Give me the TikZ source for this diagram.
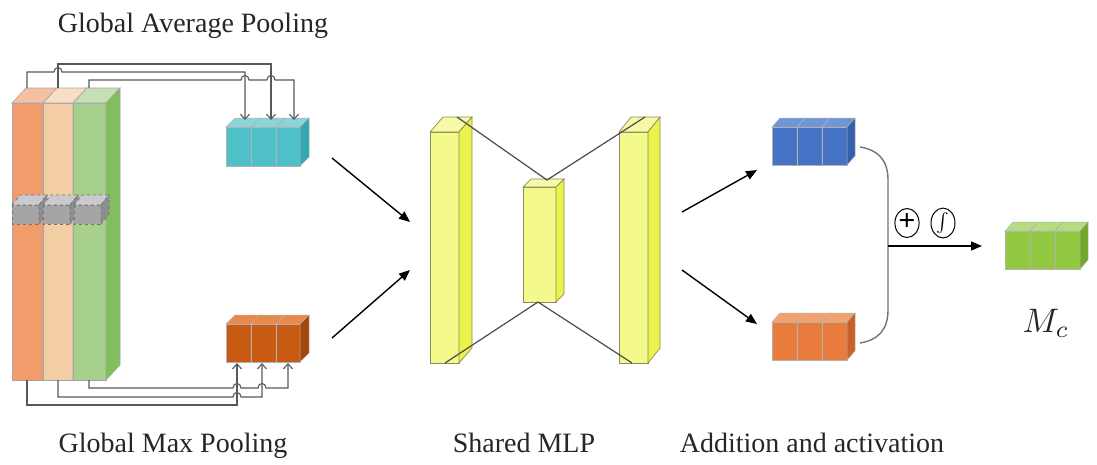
\documentclass[tikz,border=0pt]{standalone}
\usepackage{fontspec}
\setmainfont{Liberation Serif}
\usetikzlibrary{arrows.meta,shapes.geometric}
\definecolor{txt}{HTML}{262626}
\definecolor{cOrF}{HTML}{F29C6C}\definecolor{cOrT}{HTML}{F6C1A2}
\definecolor{cBeF}{HTML}{F3CDA3}\definecolor{cBeT}{HTML}{F8DEC4}
\definecolor{cGrF}{HTML}{A8D08D}\definecolor{cGrT}{HTML}{C6E0B5}\definecolor{cGrS}{HTML}{80BF5C}
\definecolor{cGyF}{HTML}{A5A5A8}\definecolor{cGyT}{HTML}{CACACE}\definecolor{cGyS}{HTML}{8E8E92}
\definecolor{cCyF}{HTML}{4FC0C8}\definecolor{cCyT}{HTML}{8AD5DA}\definecolor{cCyS}{HTML}{34A8B0}
\definecolor{cDoF}{HTML}{C95A12}\definecolor{cDoT}{HTML}{E8884A}\definecolor{cDoS}{HTML}{A3470C}
\definecolor{cBlF}{HTML}{4472C4}\definecolor{cBlT}{HTML}{7096D8}\definecolor{cBlS}{HTML}{3560AA}
\definecolor{cLoF}{HTML}{E97B3C}\definecolor{cLoT}{HTML}{F2A270}\definecolor{cLoS}{HTML}{C8612A}
\definecolor{cLgF}{HTML}{92C940}\definecolor{cLgT}{HTML}{B5DC7E}\definecolor{cLgS}{HTML}{71A82A}
\definecolor{cYeF}{HTML}{F4F98C}\definecolor{cYeT}{HTML}{F6FAA6}\definecolor{cYeS}{HTML}{EAF24C}
\definecolor{cYeL}{HTML}{8A8A5A}
\newcommand\cuboid[9]{%
  \filldraw[fill=#7] (#1,#2) rectangle ++(#3,#4);
  \filldraw[fill=#8] (#1,#2) -- ++(#5,-#6) -- ++(#3,0) -- ++(-#5,#6) -- cycle;
  \filldraw[fill=#9] (#1+#3,#2) -- ++(#5,-#6) -- ++(0,#4) -- ++(-#5,#6) -- cycle;
}
\tikzset{
  lbl/.style={text=txt,anchor=base,font=\fontsize{28}{30}\selectfont},
  feed/.style={draw=black!65,line width=1.1pt,-{Straight Barb[length=5pt,width=9pt]}},
  flow/.style={draw=black,line width=1.4pt,-{Triangle[length=11pt,width=9pt]}},
  mlpline/.style={draw=black!70,line width=1.2pt},
  symb/.style={ellipse,draw=black,line width=1pt,minimum width=24pt,minimum height=29pt,inner sep=0pt}
}
\begin{document}
\begin{tikzpicture}[x=1pt,y=-1pt]
\useasboundingbox (0,0) rectangle (1097,464);
% big feature block
\begin{scope}[draw=black!35,line width=0.6pt]
\cuboid{12}{103}{31}{277}{14}{15}{cOrF}{cOrT}{cOrF}
\cuboid{43}{103}{30}{277}{14}{15}{cBeF}{cBeT}{cBeF}
\cuboid{73}{103}{33}{277}{14}{15}{cGrF}{cGrT}{cGrS}
\end{scope}
\begin{scope}[draw=black!55,line width=0.8pt,dashed]
\cuboid{12}{205}{27}{19}{8}{10}{cGyF}{cGyT}{cGyS}
\cuboid{43}{205}{27}{19}{8}{10}{cGyF}{cGyT}{cGyS}
\cuboid{74}{205}{27}{19}{8}{10}{cGyF}{cGyT}{cGyS}
\end{scope}
% pooled vectors
\begin{scope}[draw=black!30,line width=0.5pt]
\cuboid{226}{127}{25}{39}{9}{9}{cCyF}{cCyT}{cCyS}
\cuboid{251}{127}{25}{39}{9}{9}{cCyF}{cCyT}{cCyS}
\cuboid{276}{127}{24}{39}{9}{9}{cCyF}{cCyT}{cCyS}
\cuboid{226}{324}{25}{38}{9}{9}{cDoF}{cDoT}{cDoS}
\cuboid{251}{324}{25}{38}{9}{9}{cDoF}{cDoT}{cDoS}
\cuboid{276}{324}{24}{38}{9}{9}{cDoF}{cDoT}{cDoS}
\cuboid{772}{127}{25}{38}{8}{9}{cBlF}{cBlT}{cBlS}
\cuboid{797}{127}{25}{38}{8}{9}{cBlF}{cBlT}{cBlS}
\cuboid{822}{127}{25}{38}{8}{9}{cBlF}{cBlT}{cBlS}
\cuboid{772}{322}{25}{38}{8}{9}{cLoF}{cLoT}{cLoS}
\cuboid{797}{322}{25}{38}{8}{9}{cLoF}{cLoT}{cLoS}
\cuboid{822}{322}{25}{38}{8}{9}{cLoF}{cLoT}{cLoS}
\cuboid{1005}{231}{25}{38}{8}{9}{cLgF}{cLgT}{cLgS}
\cuboid{1030}{231}{25}{38}{8}{9}{cLgF}{cLgT}{cLgS}
\cuboid{1055}{231}{25}{38}{8}{9}{cLgF}{cLgT}{cLgS}
\end{scope}
% MLP bars
\begin{scope}[draw=cYeL,line width=0.7pt]
\cuboid{430}{132}{29}{231}{13}{15}{cYeF}{cYeT}{cYeS}
\cuboid{523}{187}{33}{115}{8}{8}{cYeF}{cYeT}{cYeS}
\cuboid{619}{132}{29}{231}{12}{15}{cYeF}{cYeT}{cYeS}
\end{scope}
% coordinates
\coordinate (oT) at (27,88);  \coordinate (bT) at (58,88);  \coordinate (gT) at (89,88);
\coordinate (oB) at (27,380); \coordinate (bB) at (58,380); \coordinate (gB) at (89,380);
\coordinate (c1) at (245,120); \coordinate (c2) at (271,120); \coordinate (c3) at (294,120);
\coordinate (d1) at (237,363); \coordinate (d2) at (262,363); \coordinate (d3) at (288,363);
% average pooling feeds
\draw[feed] (oT) -- (27,72) -- (54,72) .. controls (54,66) and (62,66) .. (62,72) -- (245,72) -- (c1);
\draw[feed] (bT) -- (58,64) -- (271,64) -- (c2);
\draw[feed] (gT) -- (89,80) -- (241,80) .. controls (241,74) and (249,74) .. (249,80) -- (267,80) .. controls (267,74) and (275,74) .. (275,80) -- (294,80) -- (c3);
% max pooling feeds
\draw[feed] (oB) -- (27,405) -- (237,405) -- (d1);
\draw[feed] (bB) -- (58,397) -- (233,397) .. controls (233,391) and (241,391) .. (241,397) -- (262,397) -- (d2);
\draw[feed] (gB) -- (89,388) -- (233,388) .. controls (233,382) and (241,382) .. (241,388) -- (258,388) .. controls (258,382) and (266,382) .. (266,388) -- (288,388) -- (d3);
% MLP connections
\coordinate (m1) at (457,117); \coordinate (m2) at (547,180); \coordinate (m3) at (645,117);
\coordinate (m4) at (445,363); \coordinate (m5) at (538,302); \coordinate (m6) at (632,363);
\draw[mlpline] (m1) -- (m2) -- (m3);
\draw[mlpline] (m4) -- (m5) -- (m6);
% flow arrows
\coordinate (a1s) at (332,158); \coordinate (a1e) at (410,222);
\coordinate (a2s) at (332,338); \coordinate (a2e) at (410,270);
\coordinate (a3s) at (682,212); \coordinate (a3e) at (757,170);
\coordinate (a4s) at (682,270); \coordinate (a4e) at (757,324);
\draw[flow] (a1s) -- (a1e);
\draw[flow] (a2s) -- (a2e);
\draw[flow] (a3s) -- (a3e);
\draw[flow] (a4s) -- (a4e);
% bracket
\coordinate (q1) at (860,147); \coordinate (q2) at (860,343);
\coordinate (qm) at (888,246); \coordinate (qe) at (982,246);
\draw[draw=black!55,line width=1.4pt] (q1) .. controls (878,150) and (888,160) .. (888,180) -- (888,310) .. controls (888,330) and (878,340) .. (q2);
\draw[flow] (qm) -- (qe);
\node[symb] (plus) at (907,223) {\fontsize{30}{30}\selectfont\raisebox{1pt}{\textbf{+}}};
\node[symb] (integ) at (943,223) {\scalebox{1.9}{$\int$}};
% labels
\node[lbl] (gap) at (193,32) {Global Average Pooling};
\node[lbl] (gmp) at (173,452) {Global Max Pooling};
\node[lbl] (mlp) at (524,452) {Shared MLP};
\node[lbl] (add) at (812,452) {Addition and activation};
\node[anchor=base,text=txt] (mc) at (1046,332) {\scalebox{3.4}{$M_c$}};
\end{tikzpicture}
\end{document}
